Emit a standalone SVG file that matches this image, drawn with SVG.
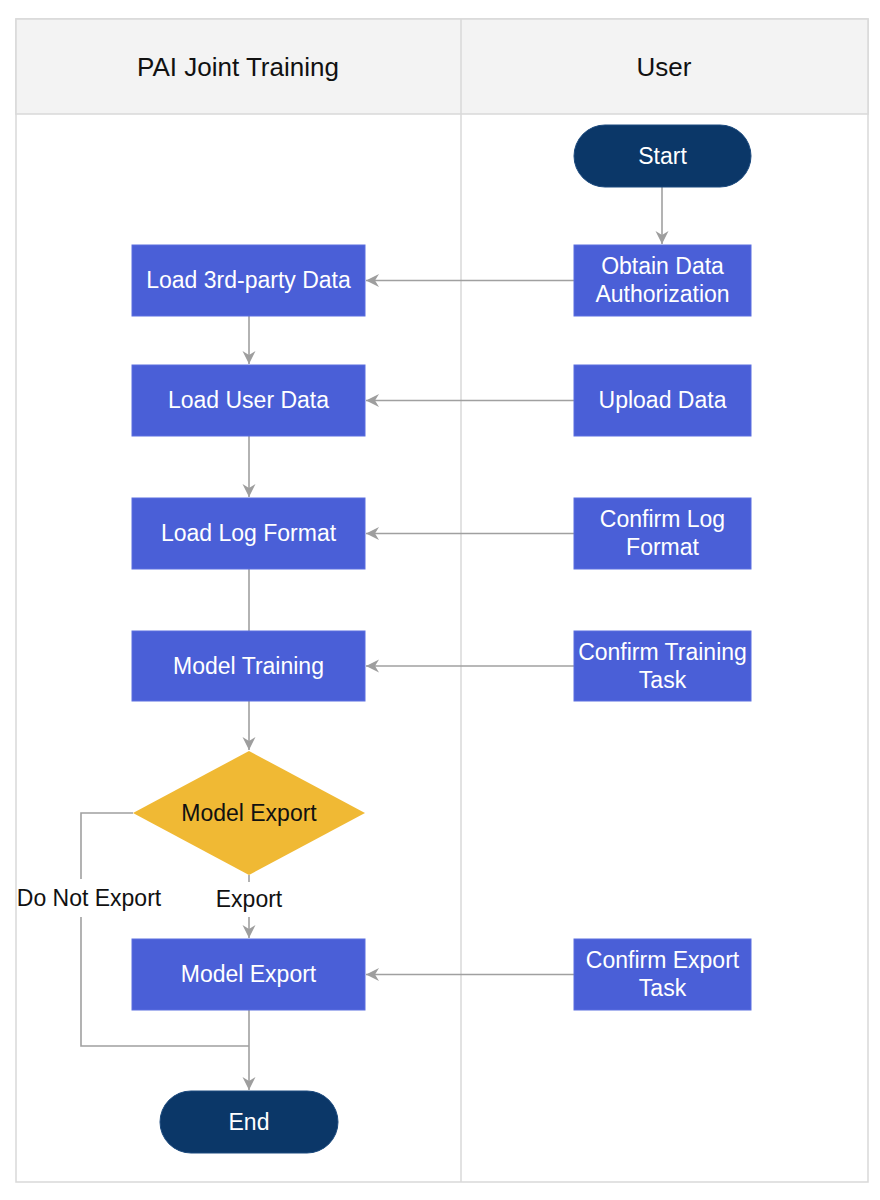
<svg xmlns="http://www.w3.org/2000/svg" width="880" height="1200" viewBox="0 0 880 1200">
<defs>
<marker id="ah" markerWidth="14" markerHeight="14" refX="13" refY="7" orient="auto" markerUnits="userSpaceOnUse">
<path d="M0,0.5 L13,7 L0,13.5 L4,7 z" fill="#9e9e9e"/>
</marker>
<style>
.lane{fill:#ffffff;stroke:#d9d9d9;stroke-width:1.5}
.hdr{fill:#f3f3f3;stroke:#d9d9d9;stroke-width:1.5}
.ht{font-family:"Liberation Sans",Arial,sans-serif;font-size:26px;fill:#111;text-anchor:middle}
.box{fill:#4a5fd7;stroke:#5b6fe0;stroke-width:1}
.term{fill:#0b3768;stroke:#1c4a7e;stroke-width:1}
.dec{fill:#f0b934}
.t{font-family:"Liberation Sans",Arial,sans-serif;font-size:23px;fill:#ffffff;text-anchor:middle}
.td{font-family:"Liberation Sans",Arial,sans-serif;font-size:23px;fill:#111;text-anchor:middle}
.c{fill:none;stroke:#a0a0a0;stroke-width:1.6}
</style>
</defs>
<rect width="880" height="1200" fill="#ffffff"/>
<g id="lanes">
<rect class="lane" x="16" y="19" width="852" height="1163"/>
<rect class="hdr" x="16" y="19" width="852" height="95"/>
<line x1="461" y1="19" x2="461" y2="1182" stroke="#d9d9d9" stroke-width="1.5"/>
<text class="ht" x="238" y="76">PAI Joint Training</text>
<text class="ht" x="664" y="76">User</text>
</g>
<g id="connectors">
<path class="c" d="M662,187 V244" marker-end="url(#ah)"/>
<path class="c" d="M574,280.5 H366" marker-end="url(#ah)"/>
<path class="c" d="M574,400.5 H366" marker-end="url(#ah)"/>
<path class="c" d="M574,533.5 H366" marker-end="url(#ah)"/>
<path class="c" d="M574,666 H366" marker-end="url(#ah)"/>
<path class="c" d="M574,974.5 H366" marker-end="url(#ah)"/>
<path class="c" d="M249,316 V364" marker-end="url(#ah)"/>
<path class="c" d="M249,436 V497" marker-end="url(#ah)"/>
<path class="c" d="M249,569 V631"/>
<path class="c" d="M249,701 V750" marker-end="url(#ah)"/>
<path class="c" d="M249,875 V882"/>
<path class="c" d="M249,917 V938" marker-end="url(#ah)"/>
<path class="c" d="M133,813 H81 V879"/>
<path class="c" d="M81,917 V1046 H249"/>
<path class="c" d="M249,1010 V1090" marker-end="url(#ah)"/>
<text class="td" x="249" y="907">Export</text>
<text class="td" x="89" y="906">Do Not Export</text>
</g>
<g id="start"><rect class="term" x="574" y="125" width="177" height="62" rx="31"/><text class="t" x="662.5" y="164">Start</text></g>
<g id="obtain"><rect class="box" x="574" y="245" width="177" height="71"/><text class="t" x="662.5" y="274">Obtain Data</text><text class="t" x="662.5" y="302">Authorization</text></g>
<g id="upload"><rect class="box" x="574" y="365" width="177" height="71"/><text class="t" x="662.5" y="408">Upload Data</text></g>
<g id="confirmlog"><rect class="box" x="574" y="498" width="177" height="71"/><text class="t" x="662.5" y="527">Confirm Log</text><text class="t" x="662.5" y="555">Format</text></g>
<g id="confirmtrain"><rect class="box" x="574" y="631" width="177" height="70"/><text class="t" x="662.5" y="660">Confirm Training</text><text class="t" x="662.5" y="688">Task</text></g>
<g id="confirmexport"><rect class="box" x="574" y="939" width="177" height="71"/><text class="t" x="662.5" y="968">Confirm Export</text><text class="t" x="662.5" y="996">Task</text></g>
<g id="load3rd"><rect class="box" x="132" y="245" width="233" height="71"/><text class="t" x="248.5" y="288">Load 3rd-party Data</text></g>
<g id="loaduser"><rect class="box" x="132" y="365" width="233" height="71"/><text class="t" x="248.5" y="408">Load User Data</text></g>
<g id="loadlog"><rect class="box" x="132" y="498" width="233" height="71"/><text class="t" x="248.5" y="541">Load Log Format</text></g>
<g id="training"><rect class="box" x="132" y="631" width="233" height="70"/><text class="t" x="248.5" y="674">Model Training</text></g>
<g id="decision"><polygon class="dec" points="249,751 365,813 249,875 133,813"/><text class="td" x="249" y="821">Model Export</text></g>
<g id="export"><rect class="box" x="132" y="939" width="233" height="71"/><text class="t" x="248.5" y="982">Model Export</text></g>
<g id="end"><rect class="term" x="160" y="1091" width="178" height="62" rx="31"/><text class="t" x="249" y="1130">End</text></g>
</svg>
